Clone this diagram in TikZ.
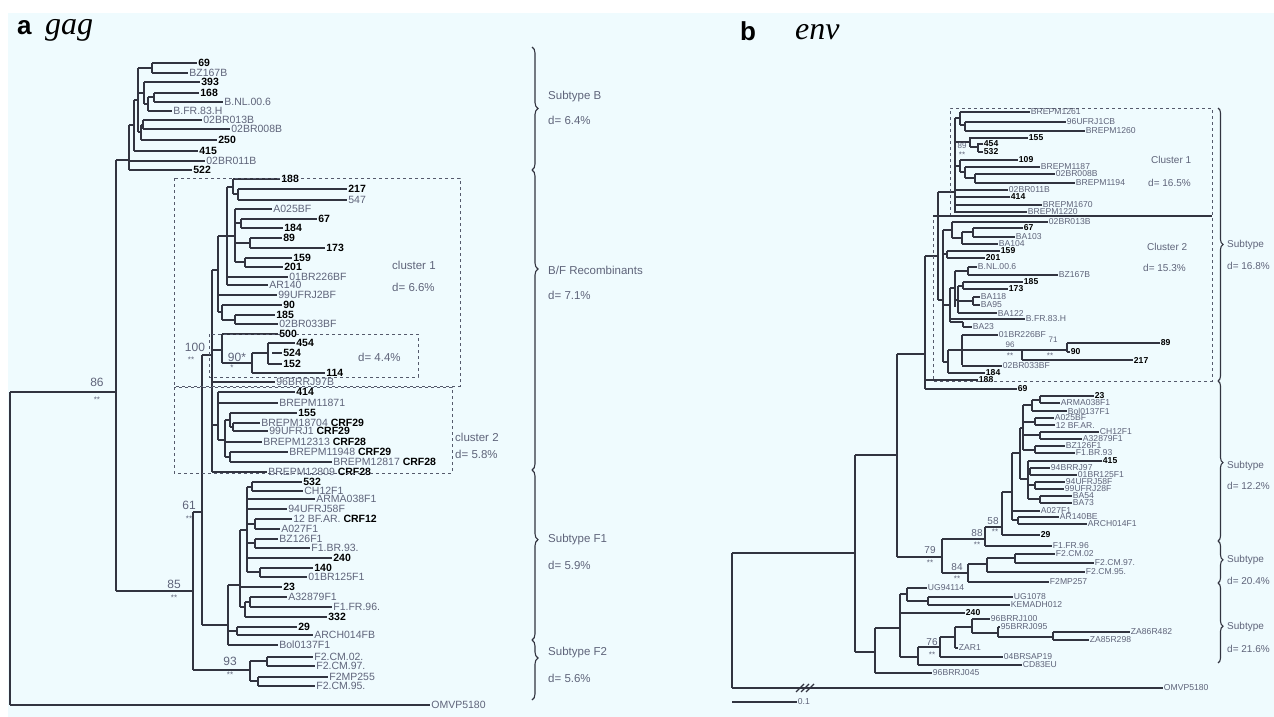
\documentclass[tikz,border=0pt]{standalone}
\usepackage{fontspec}
\setmainfont{Liberation Sans}
\newfontfamily\serifit{Liberation Serif}
\usetikzlibrary{decorations.pathreplacing}

\definecolor{bgcyan}{RGB}{239,251,254}
\definecolor{linec}{RGB}{50,52,64}
\definecolor{namec}{RGB}{95,100,122}
\definecolor{boxc}{RGB}{85,90,108}

% one leaf: x0, x1, y, style, text
\newcommand{\lf}[5]{\draw[br] (#1,#3) -- (#2,#3) node[#4, anchor=west] {#5};}
% vertical joint: x, y1, y2
\newcommand{\vt}[3]{\draw[br] (#1,#2) -- (#1,#3);}
% horizontal stem: y, x1, x2
\newcommand{\hz}[3]{\draw[br] (#2,#1) -- (#3,#1);}

\tikzset{
  br/.style={draw=linec, line width=1.1pt},
  nm/.style={font=\fontsize{10.5}{10.5}\selectfont, text=namec, inner sep=0.8pt},
  nb/.style={font=\bfseries\fontsize{10.5}{10.5}\selectfont, text=black, inner sep=0.8pt},
  nms/.style={font=\fontsize{8.6}{8.6}\selectfont, text=namec, inner sep=0.4pt},
  nbs/.style={font=\bfseries\fontsize{8.6}{8.6}\selectfont, text=black, inner sep=0.4pt},
  bs/.style={font=\fontsize{12}{12}\selectfont, text=namec, inner sep=0pt},
  bss/.style={font=\fontsize{10}{10}\selectfont, text=namec, inner sep=0pt},
  st/.style={font=\fontsize{8}{8}\selectfont, text=namec, inner sep=0pt},
  box/.style={draw=boxc, dashed, line width=0.9pt},
  brc/.style={draw=linec, line width=1.1pt, decorate},
  grp/.style={font=\fontsize{11.5}{11.5}\selectfont, text=namec, anchor=west, inner sep=0pt},
  grps/.style={font=\fontsize{10}{10}\selectfont, text=namec, anchor=west, inner sep=0pt},
}

\begin{document}
\begin{tikzpicture}[x=1pt, y=-1pt]
\useasboundingbox (0,0) rectangle (1274,717);
\fill[white] (0,0) rectangle (1274,717);
\fill[bgcyan] (8,13) rectangle (1274,717);

% titles
\node[font=\bfseries\fontsize{26}{26}\selectfont, anchor=base west, inner sep=0pt] (tagA) at (17,35) {a};
\node[font=\serifit\itshape\fontsize{32}{32}\selectfont, anchor=base west, inner sep=0pt] (tgag) at (45,35) {gag};
\node[font=\bfseries\fontsize{26}{26}\selectfont, anchor=base west, inner sep=0pt] (tagB) at (740,41) {b};
\node[font=\serifit\itshape\fontsize{32}{32}\selectfont, anchor=base west, inner sep=0pt] (tenv) at (795,40) {env};

%%%%%%%%%%%%%%%% panel a : gag
% root and outgroup
\vt{10}{392}{705}
\hz{392}{10}{116}
\lf{10}{430}{705}{nm}{OMVP5180}
\node[bs] (b86) at (97,382) {86};
\node[st] (s86) at (97,400) {**};
\vt{116}{160}{591}

% subtype B
\hz{160}{116}{129}
\vt{129}{125}{170}
\lf{129}{205}{161}{nm}{02BR011B}
\lf{129}{192}{170}{nb}{522}
\hz{125}{129}{134}
\vt{134}{100}{151}
\lf{134}{198}{151}{nb}{415}
\hz{100}{134}{138}
\vt{138}{68}{132}
\hz{68}{138}{152}
\vt{152}{63}{73}
\lf{152}{197}{63}{nb}{69}
\lf{152}{188}{73}{nm}{BZ167B}
\hz{93}{138}{144}
\vt{144}{82}{104}
\lf{144}{200}{82}{nb}{393}
\hz{104}{144}{148}
\vt{148}{97}{111}
\hz{97}{148}{154}
\vt{154}{93}{102}
\lf{154}{199}{93}{nb}{168}
\lf{154}{223}{102}{nm}{B.NL.00.6}
\lf{148}{172}{111}{nm}{B.FR.83.H}
\hz{132}{138}{141}
\vt{141}{125}{140}
\hz{125}{141}{143}
\vt{143}{120}{129}
\lf{143}{202}{120}{nm}{02BR013B}
\lf{143}{230}{129}{nm}{02BR008B}
\lf{141}{217}{140}{nb}{250}

% 85 / 61 / 93 backbone
\hz{591}{116}{193}
\node[bs] (b85) at (174,584) {85};
\node[st] (s85) at (174,598) {**};
\vt{193}{512}{670}
\hz{512}{193}{202}
\node[bs] (b61) at (189,505) {61};
\node[st] (s61) at (189,519) {**};
\vt{202}{355}{625}
\hz{355}{202}{212}
\node[bs] (b100) at (195,347) {100};
\node[st] (s100) at (191,360) {**};

% B/F recombinants
\vt{212}{270}{472}
\hz{270}{212}{218}
\vt{218}{236}{312}
\hz{236}{218}{227}
\vt{227}{187}{285}
\hz{187}{227}{233}
\vt{233}{179}{194}
\lf{233}{280}{179}{nb}{188}
\hz{194}{233}{238}
\vt{238}{189}{200}
\lf{238}{347}{189}{nb}{217}
\lf{238}{347}{200}{nm}{547}
\hz{236}{227}{235}
\vt{235}{209}{262}
\lf{235}{272}{209}{nm}{A025BF}
\hz{223}{235}{241}
\vt{241}{219}{228}
\lf{241}{317}{219}{nb}{67}
\lf{241}{283}{228}{nb}{184}
\hz{243}{235}{250}
\vt{250}{238}{248}
\lf{250}{282}{238}{nb}{89}
\lf{250}{325}{248}{nb}{173}
\hz{262}{235}{245}
\vt{245}{258}{267}
\lf{245}{292}{258}{nb}{159}
\lf{245}{283}{267}{nb}{201}
\lf{227}{288}{277}{nm}{01BR226BF}
\lf{227}{268}{285}{nm}{AR140}
\lf{218}{277}{295}{nm}{99UFRJ2BF}
\hz{312}{218}{222}
\vt{222}{305}{320}
\lf{222}{282}{305}{nb}{90}
\hz{320}{222}{235}
\vt{235}{315}{324}
\lf{235}{275}{315}{nb}{185}
\lf{235}{278}{324}{nm}{02BR033BF}
% 90* subclade
\hz{350}{212}{222}
\vt{222}{334}{363}
\lf{222}{278}{334}{nb}{500}
\hz{363}{222}{252}
\vt{252}{353}{373}
\hz{353}{252}{268}
\vt{268}{343}{364}
\lf{268}{295}{343}{nb}{454}
\lf{272}{282}{353}{nb}{524}
\lf{268}{282}{364}{nb}{152}
\lf{252}{325}{373}{nb}{114}
\node[bs] (b90) at (237,357) {90*};
\node[st] (s90) at (232,368) {*};
\lf{212}{275}{382}{nm}{96BRRJ97B}
% cluster 2 part
\hz{425}{212}{218}
\vt{218}{392}{440}
\lf{218}{295}{392}{nb}{414}
\lf{218}{278}{403}{nm}{BREPM11871}
\hz{440}{218}{225}
\vt{225}{420}{457}
\hz{420}{225}{230}
\vt{230}{413}{427}
\lf{230}{297}{413}{nb}{155}
\hz{427}{230}{233}
\vt{233}{423}{431}
\lf{233}{260}{423}{nm}{BREPM18704 \textbf{\textcolor{black}{CRF29}}}
\lf{233}{268}{431}{nm}{99UFRJ1 \textbf{\textcolor{black}{CRF29}}}
\lf{225}{262}{442}{nm}{BREPM12313 \textbf{\textcolor{black}{CRF28}}}
\hz{457}{225}{230}
\vt{230}{452}{462}
\lf{230}{288}{452}{nm}{BREPM11948 \textbf{\textcolor{black}{CRF29}}}
\lf{230}{332}{462}{nm}{BREPM12817 \textbf{\textcolor{black}{CRF28}}}
\lf{212}{267}{472}{nm}{BREPM12809 \textbf{\textcolor{black}{CRF28}}}

% subtype F1
\hz{625}{202}{228}
\vt{228}{585}{645}
\hz{585}{228}{240}
\vt{240}{530}{607}
\hz{530}{240}{247}
\vt{247}{487}{572}
\hz{487}{247}{252}
\vt{252}{482}{491}
\lf{252}{302}{482}{nb}{532}
\lf{252}{303}{491}{nm}{CH12F1}
\lf{247}{315}{499}{nm}{ARMA038F1}
\lf{247}{287}{509}{nm}{94UFRJ58F}
\hz{524}{247}{255}
\vt{255}{519}{529}
\lf{255}{292}{519}{nm}{12 BF.AR. \textbf{\textcolor{black}{CRF12}}}
\lf{255}{280}{529}{nm}{A027F1}
\hz{543}{247}{255}
\vt{255}{539}{548}
\lf{255}{278}{539}{nm}{BZ126F1}
\lf{255}{310}{548}{nm}{F1.BR.93.}
\lf{247}{332}{558}{nb}{240}
\hz{572}{247}{260}
\vt{260}{568}{577}
\lf{260}{313}{568}{nb}{140}
\lf{260}{307}{577}{nm}{01BR125F1}
\lf{240}{282}{587}{nb}{23}
\hz{607}{240}{245}
\vt{245}{602}{617}
\hz{602}{245}{250}
\vt{250}{597}{607}
\lf{250}{287}{597}{nm}{A32879F1}
\lf{250}{332}{607}{nm}{F1.FR.96.}
\lf{245}{327}{617}{nb}{332}
\hz{631}{228}{237}
\vt{237}{627}{635}
\lf{237}{297}{627}{nb}{29}
\lf{237}{313}{635}{nm}{ARCH014FB}
\lf{228}{278}{645}{nm}{Bol0137F1}

% subtype F2
\hz{670}{193}{250}
\node[bs] (b93) at (230,661) {93};
\node[st] (s93) at (230,675) {**};
\vt{250}{661}{681}
\hz{661}{250}{267}
\vt{267}{657}{666}
\lf{267}{313}{657}{nm}{F2.CM.02.}
\lf{267}{315}{666}{nm}{F2.CM.97.}
\hz{681}{250}{258}
\vt{258}{677}{686}
\lf{258}{328}{677}{nm}{F2MP255}
\lf{258}{315}{686}{nm}{F2.CM.95.}

% cluster boxes (panel a)
\draw[box] (174,178) rectangle (460,386);
\draw[box] (174,387) rectangle (452,473);
\draw[box] (209,334) rectangle (418,377);
\node[grp] (c1a) at (392,265) {cluster 1};
\node[grp] (d1a) at (392,287) {d= 6.6\%};
\node[grp] (c2a) at (455,437) {cluster 2};
\node[grp] (d2a) at (455,454) {d= 5.8\%};
\node[grp] (d3a) at (358,357) {d= 4.4\%};

% braces (panel a)
\draw[brc, decoration={brace, amplitude=6pt, aspect=0.5}] (532,47) -- (532,170);
\draw[brc, decoration={brace, amplitude=6pt, aspect=0.33}] (532,170) -- (532,470);
\draw[brc, decoration={brace, amplitude=6pt, aspect=0.41}] (532,470) -- (532,640);
\draw[brc, decoration={brace, amplitude=6pt, aspect=0.3}] (532,640) -- (532,700);
\node[grp] (gBa) at (548,97) {Subtype B};
\node[grp] (gBd) at (548,120) {d= 6.4\%};
\node[grp] (gRa) at (548,270) {B/F Recombinants};
\node[grp] (gRd) at (548,295) {d= 7.1\%};
\node[grp] (gFa) at (548,540) {Subtype F1};
\node[grp] (gFd) at (548,565) {d= 5.9\%};
\node[grp] (gGa) at (548,653) {Subtype F2};
\node[grp] (gGd) at (548,678) {d= 5.6\%};

%%%%%%%%%%%%%%%% panel b : env
% root, outgroup, scale
\vt{732}{553}{688}
\hz{553}{732}{855}
\lf{732}{1163}{688}{nms}{OMVP5180}
\draw[br] (796,692) -- (804,684) (801,692) -- (809,684) (806,692) -- (814,684);
\draw[br] (732,702) -- (797,702) node[nms, anchor=west] (sc) {0.1};
\vt{855}{455}{652}
\hz{455}{855}{897}
\vt{897}{354}{557}
\hz{354}{897}{925}
\vt{925}{256}{389}
\hz{256}{925}{938}
\lf{925}{978}{380}{nbs}{188}
\lf{925}{1017}{389}{nbs}{69}
\vt{938}{192}{300}
\hz{192}{938}{955}
\hz{300}{938}{943}

% cluster 1 (env)
\vt{955}{118}{213}
\hz{118}{955}{960}
\vt{960}{112}{125}
\lf{960}{1030}{112}{nms}{BREPM1261}
\hz{125}{960}{965}
\vt{965}{122}{130}
\lf{965}{1066}{122}{nms}{96UFRJ1CB}
\lf{965}{1085}{131}{nms}{BREPM1260}
\draw[br] (965,122) -- (965,131);
\hz{142}{955}{970}
\vt{970}{137}{147}
\lf{970}{1028}{138}{nbs}{155}
\hz{147}{970}{978}
\vt{978}{143}{152}
\lf{978}{983}{144}{nbs}{454}
\lf{978}{983}{152}{nbs}{532}
\node[st] (b89e) at (962,146) {89};
\node[st] (s89e) at (962,155) {**};
\hz{166}{955}{960}
\vt{960}{160}{172}
\lf{960}{1018}{160}{nbs}{109}
\hz{172}{960}{965}
\vt{965}{167}{178}
\lf{965}{1040}{167}{nms}{BREPM1187}
\hz{178}{965}{975}
\vt{975}{174}{183}
\lf{975}{1055}{174}{nms}{02BR008B}
\lf{975}{1075}{183}{nms}{BREPM1194}
\lf{955}{1008}{190}{nms}{02BR011B}
\lf{955}{1010}{197}{nbs}{414}
\lf{955}{1042}{205}{nms}{BREPM1670}
\lf{955}{1027}{212}{nms}{BREPM1220}

% cluster 2 (env)
\vt{943}{230}{362}
\hz{230}{943}{952}
\vt{952}{222}{238}
\lf{952}{1048}{222}{nms}{02BR013B}
\hz{238}{952}{962}
\vt{962}{232}{244}
\hz{232}{962}{973}
\vt{973}{228}{237}
\lf{973}{1023}{228}{nbs}{67}
\lf{973}{1015}{237}{nms}{BA103}
\lf{962}{998}{244}{nms}{BA104}
\hz{254}{943}{947}
\vt{947}{251}{258}
\lf{947}{1000}{251}{nbs}{159}
\lf{947}{985}{258}{nbs}{201}
\hz{305}{943}{950}
\vt{950}{288}{322}
\hz{288}{950}{955}
\vt{955}{271}{307}
\hz{271}{955}{968}
\vt{968}{267}{275}
\lf{968}{977}{267}{nms}{B.NL.00.6}
\lf{968}{1058}{275}{nms}{BZ167B}
\hz{300}{955}{958}
\vt{958}{286}{313}
\hz{286}{958}{963}
\vt{963}{282}{289}
\lf{963}{1023}{282}{nbs}{185}
\lf{963}{1008}{289}{nbs}{173}
\hz{301}{958}{973}
\vt{973}{297}{305}
\lf{973}{980}{297}{nms}{BA118}
\lf{973}{980}{305}{nms}{BA95}
\lf{958}{997}{313}{nms}{BA122}
\lf{950}{1025}{319}{nms}{B.FR.83.H}
\hz{322}{950}{963}
\lf{963}{972}{327}{nms}{BA23}
\vt{963}{322}{327}
\hz{362}{943}{948}
\vt{948}{350}{373}
\hz{350}{948}{962}
\vt{962}{335}{365}
\lf{962}{998}{335}{nms}{01BR226BF}
\hz{350}{962}{1022}
\vt{1022}{350}{360}
\hz{350}{1022}{1067}
\vt{1067}{343}{352}
\lf{1067}{1160}{343}{nbs}{89}
\lf{1067}{1070}{352}{nbs}{90}
\lf{1022}{1133}{360}{nbs}{217}
\node[st] (b96) at (1010,345) {96};
\node[st] (s96) at (1010,356) {**};
\node[st] (b71) at (1053,340) {71};
\node[st] (s71) at (1050,356) {**};
\lf{962}{1002}{366}{nms}{02BR033BF}
\lf{948}{985}{373}{nbs}{184}

% cluster boxes (env)
\draw[box] (950,216) -- (950,108) -- (1212,108) -- (1212,381) -- (933,381) -- (933,216);
\draw[br] (933,216) -- (1212,216);
\node[grps] (c1b) at (1151,160) {Cluster 1};
\node[grps] (d1b) at (1148,183) {d= 16.5\%};
\node[grps] (c2b) at (1147,247) {Cluster 2};
\node[grps] (d2b) at (1143,268) {d= 15.3\%};

% F1 (env)
\hz{557}{897}{942}
\node[bss] (b79) at (930,550) {79};
\node[st] (s79) at (930,563) {**};
\vt{942}{539}{573}
\hz{539}{942}{985}
\node[bss] (b88) at (977,533) {88};
\node[st] (s88) at (977,545) {**};
\vt{985}{527}{546}
\hz{527}{985}{1002}
\node[bss] (b58) at (993,521) {58};
\node[st] (s58) at (995,532) {**};
\lf{985}{1052}{546}{nms}{F1.FR.96}
\vt{1002}{492}{535}
\lf{1002}{1040}{535}{nbs}{29}
\hz{492}{1002}{1012}
\vt{1012}{453}{520}
\lf{1012}{1040}{511}{nms}{A027F1}
\hz{520}{1012}{1018}
\vt{1018}{517}{524}
\lf{1018}{1059}{517}{nms}{AR140BE}
\lf{1018}{1087}{524}{nms}{ARCH014F1}
\hz{453}{1012}{1020}
\vt{1020}{428}{479}
\hz{428}{1020}{1023}
\vt{1023}{405}{450}
\hz{405}{1023}{1032}
\vt{1032}{400}{411}
\hz{400}{1032}{1040}
\vt{1040}{396}{403}
\lf{1040}{1094}{396}{nbs}{23}
\lf{1040}{1060}{403}{nms}{ARMA038F1}
\lf{1032}{1067}{411}{nms}{Bol0137F1}
\hz{422}{1023}{1035}
\vt{1035}{418}{425}
\lf{1035}{1054}{418}{nms}{A025BF}
\lf{1035}{1055}{425}{nms}{12 BF.AR.}
\hz{435}{1023}{1040}
\vt{1040}{432}{439}
\lf{1040}{1099}{432}{nms}{CH12F1}
\lf{1040}{1082}{439}{nms}{A32879F1}
\hz{450}{1023}{1035}
\vt{1035}{446}{453}
\lf{1035}{1065}{446}{nms}{BZ126F1}
\lf{1035}{1075}{453}{nms}{F1.BR.93}
\hz{479}{1020}{1028}
\vt{1028}{461}{499}
\lf{1028}{1102}{461}{nbs}{415}
\hz{472}{1028}{1030}
\vt{1030}{468}{475}
\lf{1030}{1050}{468}{nms}{94BRRJ97}
\lf{1030}{1077}{475}{nms}{01BR125F1}
\hz{485}{1028}{1035}
\vt{1035}{482}{489}
\lf{1035}{1065}{482}{nms}{94UFRJ58F}
\lf{1035}{1064}{489}{nms}{99UFRJ28F}
\hz{499}{1028}{1040}
\vt{1040}{496}{503}
\lf{1040}{1072}{496}{nms}{BA54}
\lf{1040}{1072}{503}{nms}{BA73}

% F2 (env)
\hz{573}{942}{968}
\node[bss] (b84) at (957,567) {84};
\node[st] (s84) at (957,579) {**};
\vt{968}{564}{582}
\hz{564}{968}{987}
\vt{987}{558}{572}
\hz{558}{987}{1015}
\vt{1015}{554}{563}
\lf{1015}{1055}{554}{nms}{F2.CM.02}
\lf{1015}{1094}{563}{nms}{F2.CM.97.}
\lf{987}{1085}{572}{nms}{F2.CM.95.}
\lf{968}{1049}{582}{nms}{F2MP257}

% C and others (env)
\hz{652}{855}{875}
\vt{875}{628}{673}
\lf{875}{932}{673}{nms}{96BRRJ045}
\hz{628}{875}{900}
\vt{900}{594}{657}
\hz{594}{900}{907}
\vt{907}{588}{601}
\lf{907}{927}{588}{nms}{UG94114}
\hz{601}{907}{928}
\vt{928}{597}{605}
\lf{928}{1013}{597}{nms}{UG1078}
\lf{928}{1010}{605}{nms}{KEMADH012}
\lf{900}{965}{613}{nbs}{240}
\hz{657}{900}{918}
\vt{918}{647}{665}
\hz{647}{918}{940}
\node[bss] (b76) at (932,642) {76};
\node[st] (s76) at (932,655) {**};
\vt{940}{637}{657}
\lf{940}{1003}{657}{nms}{04BRSAP19}
\hz{637}{940}{955}
\vt{955}{627}{648}
\lf{955}{958}{648}{nms}{ZAR1}
\hz{627}{955}{972}
\vt{972}{619}{633}
\lf{972}{990}{619}{nms}{96BRRJ100}
\hz{633}{972}{998}
\vt{998}{627}{637}
\lf{998}{1000}{627}{nms}{95BRRJ095}
\hz{637}{998}{1053}
\vt{1053}{632}{640}
\lf{1053}{1130}{632}{nms}{ZA86R482}
\lf{1053}{1089}{640}{nms}{ZA85R298}
\lf{918}{1022}{665}{nms}{CD83EU}

% braces (env)
\draw[brc, decoration={brace, amplitude=5pt, aspect=0.5}] (1218,108) -- (1218,381);
\draw[brc, decoration={brace, amplitude=5pt, aspect=0.51}] (1218,381) -- (1218,541);
\draw[brc, decoration={brace, amplitude=5pt, aspect=0.45}] (1218,541) -- (1218,583);
\draw[brc, decoration={brace, amplitude=5pt, aspect=0.54}] (1218,583) -- (1218,663);
\node[grps] (gb1) at (1227,245) {Subtype};
\node[grps] (gb1d) at (1227,266) {d= 16.8\%};
\node[grps] (gb2) at (1227,466) {Subtype};
\node[grps] (gb2d) at (1227,486) {d= 12.2\%};
\node[grps] (gb3) at (1227,560) {Subtype};
\node[grps] (gb3d) at (1227,581) {d= 20.4\%};
\node[grps] (gb4) at (1227,627) {Subtype};
\node[grps] (gb4d) at (1227,649) {d= 21.6\%};
\end{tikzpicture}
\end{document}
